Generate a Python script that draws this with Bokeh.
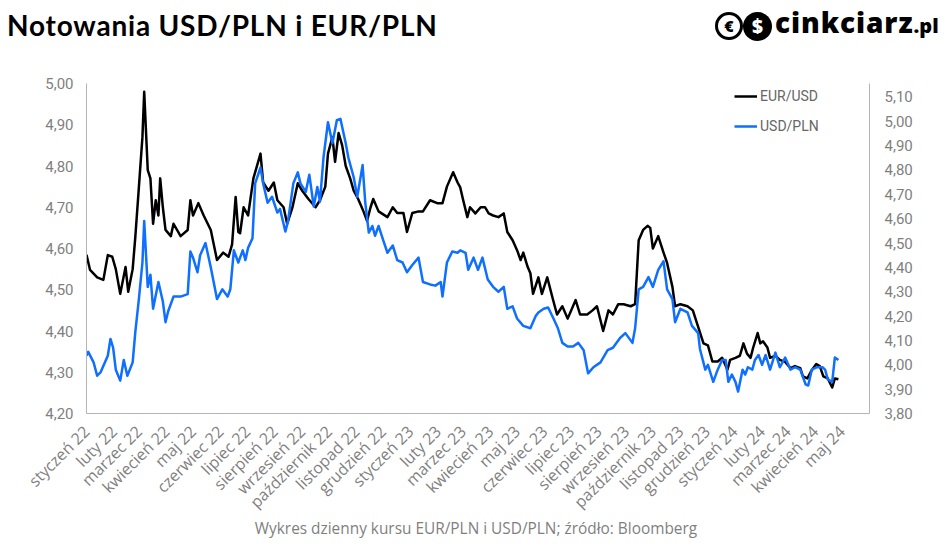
from math import pi

import pandas as pd
from bokeh.embed import file_html
from bokeh.layouts import column
from bokeh.models import (
    CustomJSTickFormatter,
    Div,
    FixedTicker,
    Legend,
    LegendItem,
    LinearAxis,
    Range1d,
)
from bokeh.plotting import figure
from bokeh.resources import INLINE

# days counted from 2022-01-01
eur_days = [
    0, 4, 12, 19, 24, 29, 33, 38, 44, 47,
    52, 55, 59, 63, 65, 69, 72, 75, 78, 81,
    83, 86, 89, 95, 98, 106, 114, 117, 120, 126,
    132, 140, 147, 154, 160, 164, 168, 171, 173, 177,
    182, 188, 196, 199, 205, 211, 215, 222, 226, 232,
    238, 243, 250, 258, 263, 269, 272, 277, 280, 284,
    288, 292, 297, 301, 306, 312, 316, 320, 323, 329,
    339, 345, 350, 357, 361, 367, 374, 379, 387, 395,
    401, 406, 413, 418, 421, 424, 429, 432, 438, 444,
    449, 453, 458, 464, 470, 474, 480, 485, 489, 492,
    497, 500, 503, 509, 513, 519, 525, 530, 536, 542,
    551, 556, 564, 570, 575, 582, 588, 593, 599, 605,
    613, 618, 622, 627, 632, 635, 638, 644, 650, 654,
    660, 663, 669, 677, 683, 689, 695, 700, 705, 711,
    716, 722, 725, 731, 736, 740, 744, 748, 751, 756,
    759, 762, 767, 770, 776, 781, 787, 793, 798, 804,
    807, 812, 817, 822, 826, 830, 835, 840, 843, 847,
]
eur_pln = [
    4.585, 4.548, 4.53, 4.524, 4.584, 4.58, 4.55, 4.49, 4.555, 4.495,
    4.55, 4.628, 4.748, 4.87, 4.98, 4.79, 4.77, 4.66, 4.717, 4.68,
    4.77, 4.70, 4.645, 4.63, 4.66, 4.63, 4.645, 4.717, 4.68, 4.71,
    4.68, 4.645, 4.572, 4.59, 4.58, 4.61, 4.725, 4.64, 4.637, 4.70,
    4.68, 4.77, 4.83, 4.76, 4.74, 4.76, 4.717, 4.70, 4.66, 4.70,
    4.758, 4.74, 4.72, 4.70, 4.717, 4.75, 4.83, 4.87, 4.81, 4.88,
    4.85, 4.80, 4.77, 4.74, 4.72, 4.69, 4.667, 4.70, 4.72, 4.69,
    4.676, 4.70, 4.686, 4.686, 4.64, 4.686, 4.69, 4.69, 4.717, 4.71,
    4.71, 4.75, 4.785, 4.76, 4.748, 4.72, 4.676, 4.70, 4.685, 4.70,
    4.70, 4.685, 4.68, 4.676, 4.685, 4.64, 4.62, 4.596, 4.572, 4.59,
    4.555, 4.54, 4.49, 4.53, 4.49, 4.53, 4.48, 4.44, 4.46, 4.43,
    4.475, 4.44, 4.44, 4.45, 4.46, 4.40, 4.45, 4.44, 4.465, 4.465,
    4.46, 4.465, 4.62, 4.645, 4.655, 4.65, 4.60, 4.63, 4.59, 4.565,
    4.507, 4.46, 4.465, 4.46, 4.45, 4.41, 4.37, 4.365, 4.326, 4.326,
    4.335, 4.306, 4.33, 4.335, 4.34, 4.37, 4.345, 4.335, 4.36, 4.395,
    4.37, 4.375, 4.36, 4.335, 4.34, 4.33, 4.325, 4.31, 4.315, 4.31,
    4.29, 4.285, 4.305, 4.32, 4.315, 4.29, 4.285, 4.263, 4.285, 4.283,
]

usd_days = [
    0, 2, 8, 12, 16, 24, 27, 30, 33, 38,
    42, 46, 52, 55, 59, 63, 65, 69, 72, 75,
    81, 86, 89, 92, 98, 106, 114, 117, 120, 125,
    128, 134, 140, 147, 153, 159, 162, 166, 171, 176,
    179, 182, 187, 190, 196, 199, 204, 209, 215, 218,
    224, 227, 233, 238, 241, 247, 251, 256, 260, 263,
    267, 272, 277, 282, 286, 292, 295, 301, 305, 311,
    314, 318, 322, 325, 329, 334, 339, 345, 350, 356,
    361, 367, 374, 379, 387, 393, 399, 401, 406, 412,
    418, 421, 427, 430, 436, 441, 446, 452, 458, 464,
    470, 474, 480, 485, 492, 500, 506, 509, 515, 520,
    526, 531, 536, 542, 548, 554, 560, 565, 571, 579,
    587, 593, 601, 607, 615, 618, 622, 627, 633, 638,
    644, 650, 654, 660, 663, 669, 677, 682, 689, 691,
    697, 700, 706, 711, 716, 720, 723, 727, 731, 734,
    739, 742, 745, 750, 753, 757, 761, 765, 770, 776,
    781, 787, 793, 798, 804, 810, 813, 817, 823, 829,
    832, 835, 840, 843, 847,
]
usd_pln = [
    4.037, 4.053, 4.01, 3.955, 3.97, 4.037, 4.106, 4.07, 3.98, 3.935,
    4.02, 3.955, 4.01, 4.135, 4.27, 4.42, 4.59, 4.32, 4.37, 4.23,
    4.34, 4.26, 4.175, 4.22, 4.28, 4.28, 4.29, 4.465, 4.44, 4.38,
    4.45, 4.50, 4.40, 4.27, 4.31, 4.28, 4.31, 4.47, 4.42, 4.47,
    4.43, 4.48, 4.52, 4.745, 4.81, 4.745, 4.665, 4.69, 4.625, 4.64,
    4.547, 4.59, 4.745, 4.79, 4.745, 4.71, 4.78, 4.65, 4.73, 4.67,
    4.853, 4.996, 4.91, 5.004, 5.01, 4.91, 4.85, 4.77, 4.69, 4.82,
    4.667, 4.543, 4.57, 4.53, 4.57, 4.514, 4.46, 4.49, 4.43, 4.42,
    4.38, 4.41, 4.44, 4.34, 4.33, 4.325, 4.34, 4.28, 4.42, 4.465,
    4.46, 4.47, 4.46, 4.39, 4.44, 4.39, 4.44, 4.35, 4.32, 4.30,
    4.32, 4.23, 4.24, 4.19, 4.16, 4.15, 4.20, 4.215, 4.23, 4.235,
    4.19, 4.15, 4.09, 4.075, 4.075, 4.09, 4.06, 3.965, 3.99, 4.01,
    4.06, 4.07, 4.11, 4.13, 4.09, 4.15, 4.31, 4.32, 4.36, 4.32,
    4.39, 4.425, 4.31, 4.27, 4.175, 4.23, 4.215, 4.16, 4.13, 4.065,
    3.98, 4.00, 3.93, 3.98, 4.02, 4.02, 3.93, 3.96, 3.93, 3.89,
    3.98, 3.96, 3.99, 3.98, 4.02, 4.04, 4.00, 4.04, 3.98, 4.05,
    3.99, 4.03, 3.98, 3.99, 3.98, 3.92, 3.915, 3.98, 3.99, 3.99,
    3.98, 3.94, 3.93, 4.03, 4.02,
]

left_ticks = [4.2, 4.3, 4.4, 4.5, 4.6, 4.7, 4.8, 4.9, 5.0]
right_ticks = [3.8, 3.9, 4.0, 4.1, 4.2, 4.3, 4.4, 4.5, 4.6, 4.7, 4.8, 4.9, 5.0, 5.1]
month_names = [
    "styczeń", "luty", "marzec", "kwiecień", "maj", "czerwiec",
    "lipiec", "sierpień", "wrzesień", "październik", "listopad", "grudzień",
]

start = pd.Timestamp("2022-01-01")
month_starts = pd.date_range("2022-01-01", "2024-05-01", freq="MS")
x_ticks = [int((d - start).days) for d in month_starts]
x_labels = {
    int((d - start).days): f"{month_names[d.month - 1]} {d.year % 100}"
    for d in month_starts
}

GREY = "#7f7f7f"
AXIS_GREY = "#b4b4b4"
W = 948
HEAD_H = 48
FOOT_H = 24
MAIN_H = 547 - HEAD_H - FOOT_H

# header: title and logo
head_html = (
    '<div style="position:relative;width:948px;height:48px;">'
    '<span style="position:absolute;left:7px;top:11px;white-space:nowrap;'
    'font-family:Lato;font-weight:bold;font-size:28px;line-height:28px;'
    'letter-spacing:0.8px;color:#000;">Notowania USD/PLN i EUR/PLN</span>'
    '<span style="position:absolute;left:715px;top:12px;width:28px;height:28px;'
    'box-sizing:border-box;border:3px solid #000;border-radius:50%;'
    "background:#fff;color:#000;font-family:'Open Sans';font-weight:800;"
    'font-size:16px;line-height:22px;text-align:center;">€</span>'
    '<span style="position:absolute;left:743px;top:12px;width:29px;height:29px;'
    'box-sizing:border-box;border-radius:50%;background:#000;color:#fff;'
    "font-family:'Open Sans';font-weight:800;font-size:19px;line-height:29px;"
    'text-align:center;">$</span>'
    '<span style="position:absolute;left:775px;top:8px;white-space:nowrap;'
    "font-family:'Open Sans';font-weight:800;font-size:28px;line-height:28px;"
    'letter-spacing:0.9px;color:#000;">cinkciarz<span style="font-size:20px;'
    'letter-spacing:0;">.pl</span></span>'
    '</div>'
)
head = Div(text=head_html, width=W, height=HEAD_H, margin=(0, 0, 0, 0))

# main chart
p = figure(
    width=W,
    height=MAIN_H,
    output_backend="svg",
    toolbar_location=None,
    x_range=Range1d(0, 882),
    y_range=Range1d(4.2, 5.0),
    min_border_left=86,
    min_border_right=79,
    min_border_top=83 - HEAD_H,
    min_border_bottom=HEAD_H + MAIN_H - 414,
)
p.extra_y_ranges = {"usd": Range1d(3.8, 5.155)}
p.xgrid.visible = False
p.ygrid.visible = False
p.outline_line_color = None

fmt = "return tick.toFixed(2).replace('.', ',')"

yl = p.yaxis[0]
yl.ticker = FixedTicker(ticks=left_ticks)
yl.formatter = CustomJSTickFormatter(code=fmt)

yr = LinearAxis(y_range_name="usd")
yr.ticker = FixedTicker(ticks=right_ticks)
yr.formatter = CustomJSTickFormatter(code=fmt)
p.add_layout(yr, "right")

for ax in (yl, yr):
    ax.axis_line_color = AXIS_GREY
    ax.major_tick_line_color = None
    ax.minor_tick_line_color = None
    ax.major_tick_out = 0
    ax.major_tick_in = 0
    ax.major_label_text_color = GREY
    ax.major_label_text_font = "Roboto"
    ax.major_label_text_font_size = "15px"
yl.major_label_standoff = 13
yr.major_label_standoff = 15

xa = p.xaxis[0]
xa.ticker = FixedTicker(ticks=x_ticks)
xa.major_label_overrides = x_labels
xa.major_label_orientation = pi / 4
xa.axis_line_color = AXIS_GREY
xa.major_tick_line_color = None
xa.minor_tick_line_color = None
xa.major_tick_out = 0
xa.major_tick_in = 0
xa.major_label_standoff = 15
xa.major_label_text_color = GREY
xa.major_label_text_font = "Open Sans"
xa.major_label_text_font_size = "16px"

r_eur = p.line(eur_days, eur_pln, line_color="black", line_width=2.5, line_join="round")
r_usd = p.line(
    usd_days, usd_pln, line_color="#0f6fff", line_width=2.5, line_join="round",
    y_range_name="usd",
)

legend = Legend(
    items=[
        LegendItem(label="EUR/USD", renderers=[r_eur]),
        LegendItem(label="USD/PLN", renderers=[r_usd]),
    ],
    location=(648, 277),
    padding=0,
    margin=0,
    spacing=10,
    glyph_width=23,
    glyph_height=20,
    label_height=20,
    label_standoff=3,
    label_text_font="Roboto",
    label_text_font_size="14px",
    label_text_color="#666666",
    border_line_color=None,
    background_fill_alpha=0,
)
p.add_layout(legend)

# footer: source line
foot_html = (
    '<div style="position:relative;width:948px;height:24px;">'
    '<span style="position:absolute;left:0;top:-2px;width:952px;text-align:center;'
    "white-space:nowrap;font-family:'Open Sans';font-size:15.4px;line-height:16px;"
    'color:#7f7f7f;">Wykres dzienny kursu EUR/PLN i USD/PLN; źródło: Bloomberg</span>'
    '</div>'
)
foot = Div(text=foot_html, width=W, height=FOOT_H, margin=(0, 0, 0, 0))

page = column(head, p, foot, spacing=0)
open("out.html", "w").write(file_html(page, INLINE))
